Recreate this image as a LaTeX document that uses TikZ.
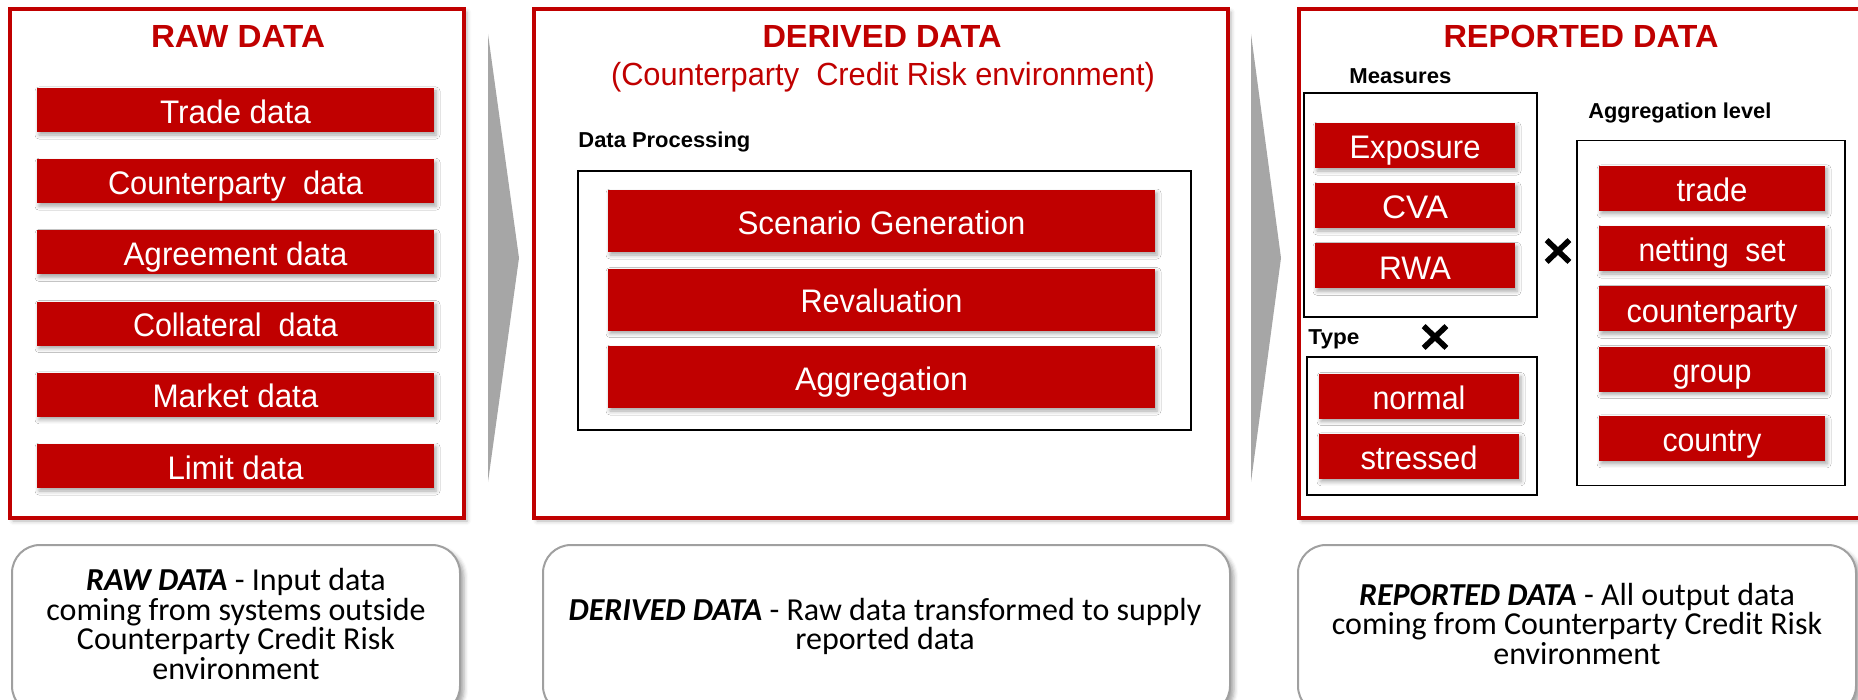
\documentclass[tikz,border=0pt]{standalone}
\usepackage{fontspec}
\usepackage{graphicx}
\setmainfont{Liberation Sans}
\newfontfamily\notefont{Carlito}
\usetikzlibrary{shadows.blur,fit}

\definecolor{ccrred}{HTML}{C00000}
\definecolor{arrowgray}{HTML}{A6A6A6}
\definecolor{noteedge}{HTML}{A0A0A0}

% set #2 horizontally scaled to a width of #1 px (1px = 0.5pt)
\newsavebox\fitbox
\newlength\fitlen
\newcommand\fitw[2]{\sbox\fitbox{#2}\fitlen=\wd\fitbox
  \pgfmathsetmacro\fitratio{0.5*#1/\fitlen}\scalebox{\fitratio}[1]{\usebox\fitbox}}

\begin{document}
\begin{tikzpicture}[x=0.5pt,y=-0.5pt,
  panel/.style={draw=ccrred, line width=2pt, fill=white, inner sep=0pt,
    blur shadow={shadow xshift=1.5pt, shadow yshift=-1.5pt, shadow blur radius=2pt, shadow opacity=30}},
  group/.style={draw=black, line width=0.8pt, inner sep=0pt},
  item/.style={fill=ccrred, text=white, inner sep=0pt,
    font=\fontsize{16.3pt}{19pt}\selectfont, text height=13.2pt, text depth=0pt,
    blur shadow={shadow xshift=1pt, shadow yshift=-1.5pt, shadow blur radius=2pt, shadow opacity=35}},
  rawitem/.style={item, minimum width=198.5pt, minimum height=22pt},
  deritem/.style={item, minimum width=273.5pt, minimum height=31pt},
  repitem/.style={item, minimum width=100pt, minimum height=22.5pt},
  aggitem/.style={item, minimum width=113pt, minimum height=22.5pt},
  paneltitle/.style={text=ccrred, font=\bfseries\fontsize{16pt}{19pt}\selectfont, inner sep=0pt, anchor=base},
  grouplabel/.style={font=\bfseries\fontsize{10.8pt}{13pt}\selectfont, inner sep=0pt, anchor=base west},
  note/.style={draw=noteedge, line width=1pt, rounded corners=14pt, fill=white, inner sep=0pt,
    blur shadow={shadow xshift=2pt, shadow yshift=-2pt, shadow blur radius=2pt, shadow opacity=35}},
  notetext/.style={font=\notefont\fontsize{16pt}{19pt}\selectfont, inner sep=0pt, anchor=base},
  crossmark/.style={minimum width=11pt, minimum height=10.5pt, inner sep=0pt},
  cross/.style={line width=2.8pt}
]
\useasboundingbox (0,0) rectangle (1858,700);
\clip (0,0) rectangle (1858,700);

% flow chevrons between the panels
\fill[arrowgray] (488,34) -- (519,258) -- (488,482) -- cycle;
\fill[arrowgray] (1251,34) -- (1281,258) -- (1251,482) -- cycle;

% ---------------- raw data ----------------
\node[panel, fit={(10,9) (464,518)}] (rawpanel) {};
\node[paneltitle] (rawtitle) at (238,48) {\fitw{174}{RAW DATA}};
\node[rawitem] (trade)  at (235.5,110)   {\fitw{151}{Trade data}};
\node[rawitem] (cpty)   at (235.5,181.2) {\fitw{255}{Counterparty\ \ data}};
\node[rawitem] (agree)  at (235.5,252.4) {\fitw{224}{Agreement data}};
\node[rawitem] (coll)   at (235.5,323.6) {\fitw{205}{Collateral\ \ data}};
\node[rawitem] (market) at (235.5,394.8) {\fitw{166}{Market data}};
\node[rawitem] (limit)  at (235.5,466)   {\fitw{136}{Limit data}};

% ---------------- derived data ----------------
\node[panel, fit={(534,9) (1228,518)}] (derpanel) {};
\node[paneltitle] (dertitle) at (882,48) {\fitw{239}{DERIVED DATA}};
\node[paneltitle, font=\fontsize{16pt}{19pt}\selectfont] (dersub) at (883,86)
  {\fitw{544}{(Counterparty\ \ Credit Risk environment)}};
\node[grouplabel] (proclabel) at (578,148) {\fitw{172}{Data Processing}};
\node[group, fit={(578,171) (1191,430)}] (procbox) {};
\node[deritem] (scen)  at (881.5,221)   {\fitw{288}{Scenario Generation}};
\node[deritem] (reval) at (881.5,299.6) {\fitw{162}{Revaluation}};
\node[deritem] (aggr)  at (881.5,377)   {\fitw{173}{Aggregation}};

% ---------------- reported data ----------------
\node[panel, fit={(1299,9) (1890,518)}] (reppanel) {};
\node[paneltitle] (reptitle) at (1581,48) {\fitw{275}{REPORTED DATA}};

\node[grouplabel] (measlabel) at (1349,84) {\fitw{102}{Measures}};
\node[group, fit={(1304,93) (1537,317)}] (measbox) {};
\node[repitem] (expo) at (1415,145.5) {\fitw{131}{Exposure}};
\node[repitem] (cva)  at (1415,205.5) {\fitw{66}{CVA}};
\node[repitem] (rwa)  at (1415,265.8) {\fitw{72}{RWA}};

\node[grouplabel] (typelabel) at (1308,344) {\fitw{51}{Type}};
\node[group, fit={(1307,357) (1537,495)}] (typebox) {};
\node[repitem] (normal)   at (1419,396)   {\fitw{93}{normal}};
\node[repitem] (stressed) at (1419,456.3) {\fitw{117}{stressed}};

\node[grouplabel] (agglabel) at (1588,119) {\fitw{183}{Aggregation level}};
\node[group, fit={(1577,140.5) (1845,485.5)}] (aggbox) {};
\node[aggitem] (lvtrade)   at (1712,188.4) {\fitw{71}{trade}};
\node[aggitem] (lvnet)     at (1712,248.5) {\fitw{147}{netting\ \ set}};
\node[aggitem] (lvcpty)    at (1712,308.8) {\fitw{171}{counterparty}};
\node[aggitem] (lvgroup)   at (1712,369)   {\fitw{79}{group}};
\node[aggitem] (lvcountry) at (1712,438.4) {\fitw{99}{country}};

% combination marks
\node[crossmark] (times1) at (1558,251) {};
\draw[cross] (times1.north west) -- (times1.south east)
             (times1.north east) -- (times1.south west);
\node[crossmark] (times2) at (1435,337) {};
\draw[cross] (times2.north west) -- (times2.south east)
             (times2.north east) -- (times2.south west);

% ---------------- explanatory notes ----------------
\node[note, fit={(12,545) (460,714)}] (rawnote) {};
\node[notetext] (rawnote1) at (236,590) {\textbf{\textit{RAW DATA}} - Input data};
\node[notetext] (rawnote2) at (236,620) {coming from systems outside};
\node[notetext] (rawnote3) at (236,649) {Counterparty Credit Risk};
\node[notetext] (rawnote4) at (236,679) {environment};

\node[note, fit={(543,545) (1230,714)}] (dernote) {};
\node[notetext] (dernote1) at (885,620) {\textbf{\textit{DERIVED DATA}} - Raw data transformed to supply};
\node[notetext] (dernote2) at (885,649) {reported data};

\node[note, fit={(1298,545) (1856,714)}] (repnote) {};
\node[notetext] (repnote1) at (1577,605) {\textbf{\textit{REPORTED DATA}} - All output data};
\node[notetext] (repnote2) at (1577,634) {coming from Counterparty Credit Risk};
\node[notetext] (repnote3) at (1577,664) {environment};
\end{tikzpicture}
\end{document}
